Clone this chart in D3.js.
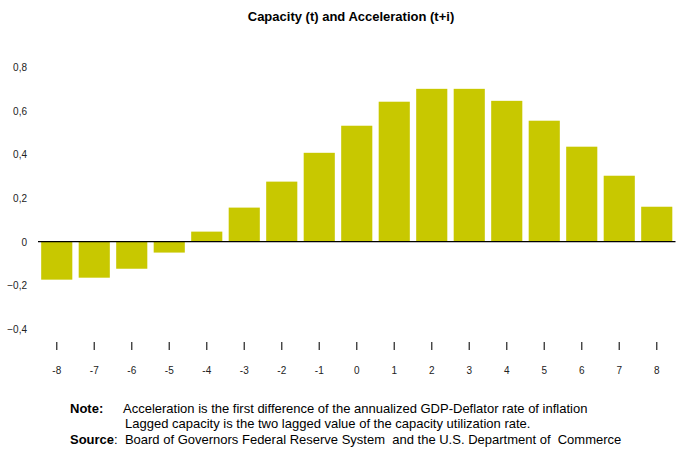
<!DOCTYPE html>
<html><head><meta charset="utf-8">
<script src="https://cdn.jsdelivr.net/npm/d3@7"></script>
<style>body{margin:0;background:#fff}svg{display:block;font-family:"Liberation Sans",Arial,sans-serif}</style>
</head><body>
<script>
const lags = [-8,-7,-6,-5,-4,-3,-2,-1,0,1,2,3,4,5,6,7,8];
const values = [-0.174,-0.165,-0.124,-0.05,0.046,0.156,0.275,0.407,0.531,0.641,0.70,0.70,0.645,0.554,0.435,0.302,0.16];
const yTicks = [-0.4,-0.2,0,0.2,0.4,0.6,0.8];
const title = "Capacity (t) and Acceleration (t+i)";

const W=680,H=455;
const svg=d3.select("body").append("svg").attr("width",W).attr("height",H);

const x=d3.scaleBand().domain(lags).range([38,675.5]).paddingInner(0.17).paddingOuter(0.085);
const y=d3.scaleLinear().domain([-0.4,0.8]).range([329,67]);

svg.append("text").attr("x",351).attr("y",21).attr("text-anchor","middle")
  .attr("font-size",13).attr("font-weight","bold").text(title);

const fmt=d=>d===0?"0":d3.format(".1f")(d).replace(".",",");
svg.append("g").selectAll("text").data(yTicks).join("text")
  .attr("x",27).attr("y",d=>y(d)+4).attr("text-anchor","end")
  .attr("font-size",10).attr("fill","#222").text(fmt);

svg.append("g").selectAll("rect").data(values).join("rect")
  .attr("x",(d,i)=>x(lags[i])).attr("width",x.bandwidth())
  .attr("y",d=>y(Math.max(0,d))).attr("height",d=>Math.abs(y(d)-y(0)))
  .attr("fill","#c8c800");

svg.append("line").attr("x1",38).attr("x2",675.5).attr("y1",y(0)).attr("y2",y(0))
  .attr("stroke","#000").attr("stroke-width",1.2);

const xa=svg.append("g");
xa.selectAll("line").data(lags).join("line")
  .attr("x1",d=>x(d)+x.bandwidth()/2).attr("x2",d=>x(d)+x.bandwidth()/2)
  .attr("y1",342).attr("y2",350).attr("stroke","#333").attr("stroke-width",1.3);
xa.selectAll("text").data(lags).join("text")
  .attr("x",d=>x(d)+x.bandwidth()/2).attr("y",374).attr("text-anchor","middle")
  .attr("font-size",10).attr("fill","#222").text(d=>d);

const n=svg.append("g").attr("font-size",13).attr("fill","#000");
n.append("text").attr("x",70).attr("y",413).attr("font-weight","bold").text("Note:");
n.append("text").attr("x",123).attr("y",413).text("Acceleration is the first difference of the annualized GDP-Deflator rate of inflation");
n.append("text").attr("x",125).attr("y",428).text("Lagged capacity is the two lagged value of the capacity utilization rate.");
const s=n.append("text").attr("x",70).attr("y",444);
s.append("tspan").attr("font-weight","bold").text("Source");
s.append("tspan").text(":\u00A0 Board of Governors Federal Reserve System \u00A0and the U.S. Department of \u00A0Commerce");
</script>
</body></html>
